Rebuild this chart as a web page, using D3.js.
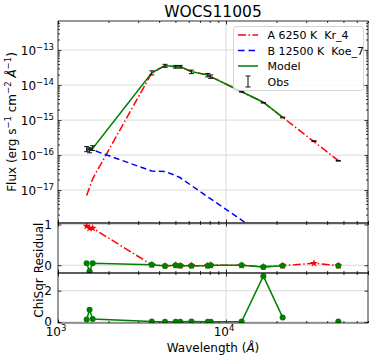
<!DOCTYPE html>
<html><head><meta charset="utf-8">
<script src="https://cdn.jsdelivr.net/npm/d3@7"></script>
<style>body{margin:0;background:#fff}svg{display:block;font-family:"DejaVu Sans",sans-serif}</style>
</head><body><svg id="c" width="374" height="361"></svg>
<script>
// ---- data ----
const wavelengths = [1481, 1541, 1608, 3616, 4335, 5015, 5345, 6225, 7786, 8110, 12390, 16680, 21730, 33400, 46600];
const obsFlux  = [1.50e-16, 1.38e-16, 1.60e-16, 2.25e-14, 3.56e-14, 3.34e-14, 3.34e-14, 2.40e-14, 1.93e-14, 1.75e-14, 6.45e-15, 3.12e-15, 1.19e-15, 2.51e-16, 6.87e-17];
const obsErr   = [0.25e-16, 0.22e-16, 0.25e-16, 0.30e-14, 0.35e-14, 0.30e-14, 0.30e-14, 0.28e-14, 0.22e-14, 0.20e-14, 0.15e-15, 0.06e-15, 0.03e-15, 0.06e-16, 0.15e-17];
const modelFlux = [1.45e-16, 1.58e-16, 1.55e-16, 2.23e-14, 3.62e-14, 3.34e-14, 3.37e-14, 2.42e-14, 1.95e-14, 1.75e-14, 6.45e-15, 3.24e-15, 1.20e-15, null, 6.94e-17];
const compAFlux = [7.0e-18, 1.2e-17, 2.1e-17, 2.22e-14, 3.61e-14, 3.33e-14, 3.36e-14, 2.41e-14, 1.94e-14, 1.74e-14, 6.45e-15, 3.24e-15, 1.20e-15, 2.41e-16, 6.94e-17];
const compBFlux = [1.38e-16, 1.46e-16, 1.40e-16, 3.5e-17, 3.4e-17, 2.6e-17, 2.25e-17, 1.35e-17, 6.4e-18, 5.6e-18, 1.39e-18, 5.0e-19, 2.0e-19, 4.0e-20, 1.2e-20];
const residModel = [0.05, -0.15, 0.05, 0.01, -0.02, 0.0, -0.01, -0.01, -0.01, 0.0, 0.0, -0.04, -0.01, null, -0.01];
const residA     = [0.96, 0.91, 0.91, 0.01, -0.02, 0.0, -0.01, -0.01, -0.01, 0.0, 0.0, -0.04, -0.01, 0.05, -0.01];
const chiSqr     = [0.15, 0.78, 0.19, 0.02, 0.01, 0.01, 0.01, 0.02, 0.01, 0.01, 0.02, 2.93, 0.29, null, 0.03];
const xMajorTicks = [1e3, 1e4];
const xTickExps = ["3", "4"];
const mainYTickExps = [-17, -16, -15, -14, -13];
const resYTicks = [0, 1];
const chiYTicks = [0, 2];
const legendLabels = ["A 6250 K  Kr_4", "B 12500 K  Koe_7", "Model", "Obs"];
const titleText = "WOCS11005";

// ---- layout ----
const svg = d3.select("#c");
const L = 58, R = 368, T = 21, B1 = 223, B2 = 273, B3 = 323;
const x = d3.scaleLog().domain([1000, 70000]).range([L, R]);
const yMain = d3.scaleLog().domain([Math.pow(10, -17.94), Math.pow(10, -12.17)]).range([B1, T]);
const yRes = d3.scaleLinear().domain([-0.19, 1.037]).range([B2, B1]);
const yChi = d3.scaleLinear().domain([-0.07, 3.13]).range([B3, B2]);

const RED = "#ff0000", BLUE = "#0000ff", GREEN = "#008000", GRID = "#d0d0d0";
const defs = svg.append("defs");
function clip(id, y0, y1) {
  defs.append("clipPath").attr("id", id).append("rect")
    .attr("x", L).attr("y", y0).attr("width", R - L).attr("height", y1 - y0);
}
clip("cMain", T, B1); clip("cRes", B1, B2); clip("cChi", B2, B3);

const xMinor = [];
[1e3, 1e4].forEach(d => { for (let k = 2; k <= 9; k++) if (k * d <= 70000) xMinor.push(k * d); });
const yMinorMain = [];
for (let e = -18; e <= -13; e++) for (let k = 2; k <= 9; k++) {
  const v = k * Math.pow(10, e);
  if (v > yMain.domain()[0] && v < yMain.domain()[1]) yMinorMain.push(v);
}

function strip(g) { g.select(".domain").remove(); g.selectAll("line").attr("stroke", "#000").attr("stroke-width", 0.8); }

function panel(y, top, bottom, yMajor, yMinor, clipId) {
  const g = svg.append("g");
  const grid = g.append("g").attr("clip-path", `url(#${clipId})`);
  grid.selectAll("line.gx").data([1e4]).join("line")
    .attr("x1", d => x(d)).attr("x2", d => x(d)).attr("y1", top).attr("y2", bottom)
    .attr("stroke", GRID).attr("stroke-width", 0.8);
  grid.selectAll("line.gy").data(yMajor).join("line")
    .attr("x1", L).attr("x2", R).attr("y1", d => y(d)).attr("y2", d => y(d))
    .attr("stroke", GRID).attr("stroke-width", 0.8);
  g.append("g").attr("transform", `translate(0,${bottom})`).call(d3.axisBottom(x).tickValues(xMajorTicks).tickSize(-3.5).tickFormat("")).call(strip);
  g.append("g").attr("transform", `translate(0,${bottom})`).call(d3.axisBottom(x).tickValues(xMinor).tickSize(-2).tickFormat("")).call(strip);
  g.append("g").attr("transform", `translate(0,${top})`).call(d3.axisTop(x).tickValues(xMajorTicks).tickSize(-3.5).tickFormat("")).call(strip);
  g.append("g").attr("transform", `translate(0,${top})`).call(d3.axisTop(x).tickValues(xMinor).tickSize(-2).tickFormat("")).call(strip);
  g.append("g").attr("transform", `translate(${L},0)`).call(d3.axisLeft(y).tickValues(yMajor).tickSize(-3.5).tickFormat("")).call(strip);
  g.append("g").attr("transform", `translate(${R},0)`).call(d3.axisRight(y).tickValues(yMajor).tickSize(-3.5).tickFormat("")).call(strip);
  if (yMinor.length) {
    g.append("g").attr("transform", `translate(${L},0)`).call(d3.axisLeft(y).tickValues(yMinor).tickSize(-2).tickFormat("")).call(strip);
    g.append("g").attr("transform", `translate(${R},0)`).call(d3.axisRight(y).tickValues(yMinor).tickSize(-2).tickFormat("")).call(strip);
  }
  return g;
}

const mainTicks = mainYTickExps.map(e => Math.pow(10, e));
panel(yMain, T, B1, mainTicks, yMinorMain, "cMain");
panel(yRes, B1, B2, resYTicks, [], "cRes");
panel(yChi, B2, B3, chiYTicks, [], "cChi");

const pts = wavelengths.map((w, i) => ({w, i}));

// ---- main panel ----
const gm = svg.append("g").attr("clip-path", "url(#cMain)");
const lineOf = (arr, y) => d3.line().defined(d => arr[d.i] != null).x(d => x(d.w)).y(d => y(arr[d.i]));
gm.append("path").datum(pts).attr("d", lineOf(compAFlux, yMain)).attr("fill", "none")
  .attr("stroke", RED).attr("stroke-width", 1.5).attr("stroke-dasharray", "8,2.5,1.5,2.5");
gm.append("path").datum(pts).attr("d", lineOf(compBFlux, yMain)).attr("fill", "none")
  .attr("stroke", BLUE).attr("stroke-width", 1.5).attr("stroke-dasharray", "6,3.5");
gm.append("path").datum(pts).attr("d", lineOf(modelFlux, yMain)).attr("fill", "none")
  .attr("stroke", GREEN).attr("stroke-width", 1.5);
const eb = gm.append("g").attr("stroke", "#111").attr("stroke-width", 1);
pts.forEach(d => {
  const f = obsFlux[d.i], e = obsErr[d.i], cx = x(d.w);
  const y0 = yMain(f - e), y1 = yMain(f + e);
  eb.append("line").attr("x1", cx).attr("x2", cx).attr("y1", y0).attr("y2", y1);
  eb.append("line").attr("x1", cx - 2.5).attr("x2", cx + 2.5).attr("y1", y0).attr("y2", y0);
  eb.append("line").attr("x1", cx - 2.5).attr("x2", cx + 2.5).attr("y1", y1).attr("y2", y1);
});

// ---- residual panel ----
const gr = svg.append("g").attr("clip-path", "url(#cRes)");
gr.append("path").datum(pts).attr("d", lineOf(residA, yRes)).attr("fill", "none")
  .attr("stroke", RED).attr("stroke-width", 1.5).attr("stroke-dasharray", "8,2.5,1.5,2.5");
gr.selectAll("path.star").data(pts.filter(d => residA[d.i] != null)).join("path")
  .attr("transform", d => `translate(${x(d.w)},${yRes(residA[d.i])})`)
  .attr("d", d3.symbol(d3.symbolStar, 20)).attr("fill", RED);
gr.append("path").datum(pts).attr("d", lineOf(residModel, yRes)).attr("fill", "none")
  .attr("stroke", GREEN).attr("stroke-width", 1.5);
gr.selectAll("circle").data(pts.filter(d => residModel[d.i] != null)).join("circle")
  .attr("cx", d => x(d.w)).attr("cy", d => yRes(residModel[d.i])).attr("r", 3).attr("fill", GREEN);

// ---- chisqr panel ----
const gc = svg.append("g").attr("clip-path", "url(#cChi)");
gc.append("path").datum(pts).attr("d", lineOf(chiSqr, yChi)).attr("fill", "none")
  .attr("stroke", GREEN).attr("stroke-width", 1.5);
gc.selectAll("circle").data(pts.filter(d => chiSqr[d.i] != null)).join("circle")
  .attr("cx", d => x(d.w)).attr("cy", d => yChi(chiSqr[d.i])).attr("r", 3).attr("fill", GREEN);

// ---- frames ----
[[T, B1], [B1, B2], [B2, B3]].forEach(([a, b]) => {
  svg.append("rect").attr("x", L).attr("y", a).attr("width", R - L).attr("height", b - a)
    .attr("fill", "none").attr("stroke", "#000").attr("stroke-width", 0.8);
});

// ---- tick labels ----
const FS = 12, SUP = 8.5;
mainYTickExps.forEach(e => {
  const t = svg.append("text").attr("x", 54).attr("y", yMain(Math.pow(10, e)) + 4.5)
    .attr("text-anchor", "end").attr("font-size", FS);
  t.append("tspan").text("10");
  t.append("tspan").attr("dy", -5).attr("font-size", SUP).text("\u2212" + Math.abs(e));
});
xMajorTicks.forEach((v, i) => {
  const t = svg.append("text").attr("x", x(v) - 2).attr("y", 336)
    .attr("text-anchor", "middle").attr("font-size", FS);
  t.append("tspan").text("10");
  t.append("tspan").attr("dy", -5).attr("font-size", SUP).text(xTickExps[i]);
});
resYTicks.forEach(v => svg.append("text").attr("x", 52).attr("y", yRes(v) + 4.5)
  .attr("text-anchor", "end").attr("font-size", FS).text(v));
chiYTicks.forEach(v => svg.append("text").attr("x", 52).attr("y", yChi(v) + 4)
  .attr("text-anchor", "end").attr("font-size", FS).text(v));

// ---- axis labels & title ----
svg.append("text").attr("x", (L + R) / 2).attr("y", 16.5).attr("text-anchor", "middle")
  .attr("font-size", 15.5).text(titleText);
const xl = svg.append("text").attr("x", (L + R) / 2).attr("y", 352).attr("text-anchor", "middle").attr("font-size", FS);
xl.append("tspan").text("Wavelength (");
xl.append("tspan").attr("font-style", "italic").text("\u00C5");
xl.append("tspan").text(")");

const yl = svg.append("text").attr("transform", `translate(16,${(T + B1) / 2}) rotate(-90)`)
  .attr("text-anchor", "middle").attr("font-size", FS);
yl.append("tspan").text("Flux (erg s");
yl.append("tspan").attr("dy", -5).attr("font-size", SUP).text("\u22121");
yl.append("tspan").attr("dy", 5).text(" cm");
yl.append("tspan").attr("dy", -5).attr("font-size", SUP).text("\u22122");
yl.append("tspan").attr("dy", 5).text(" ");
yl.append("tspan").attr("font-style", "italic").text("\u00C5");
yl.append("tspan").attr("dy", -5).attr("font-size", SUP).text("\u22121");
yl.append("tspan").attr("dy", 5).text(")");

svg.append("text").attr("transform", `translate(43,${(B1 + B2) / 2}) rotate(-90)`)
  .attr("text-anchor", "middle").attr("font-size", FS).text("Residual");
svg.append("text").attr("transform", `translate(43,${(B2 + B3) / 2}) rotate(-90)`)
  .attr("text-anchor", "middle").attr("font-size", FS).text("ChiSqr");

// ---- legend ----
const lg = svg.append("g");
lg.append("rect").attr("x", 233.5).attr("y", 26.5).attr("width", 130).attr("height", 64).attr("rx", 2.5)
  .attr("fill", "#fff").attr("fill-opacity", 0.8).attr("stroke", "#cccccc").attr("stroke-width", 0.8);
const rowY = [35, 50.5, 66, 81.5];
const styles = [
  {c: RED, dash: "8,2.5,1.5,2.5"}, {c: BLUE, dash: "6.5,4"}, {c: GREEN, dash: null}, null
];
legendLabels.forEach((lab, i) => {
  const yy = rowY[i];
  if (styles[i]) {
    lg.append("line").attr("x1", 238).attr("x2", 258).attr("y1", yy).attr("y2", yy)
      .attr("stroke", styles[i].c).attr("stroke-width", 1.5).attr("stroke-dasharray", styles[i].dash);
  } else {
    const e = lg.append("g").attr("stroke", "#111").attr("stroke-width", 1);
    e.append("line").attr("x1", 248).attr("x2", 248).attr("y1", yy - 5.5).attr("y2", yy + 5.5);
    e.append("line").attr("x1", 245.5).attr("x2", 250.5).attr("y1", yy - 5.5).attr("y2", yy - 5.5);
    e.append("line").attr("x1", 245.5).attr("x2", 250.5).attr("y1", yy + 5.5).attr("y2", yy + 5.5);
  }
  lg.append("text").attr("x", 267.5).attr("y", yy + 4).attr("font-size", 11)
    .style("white-space", "pre").text(lab);
});
</script></body></html>
